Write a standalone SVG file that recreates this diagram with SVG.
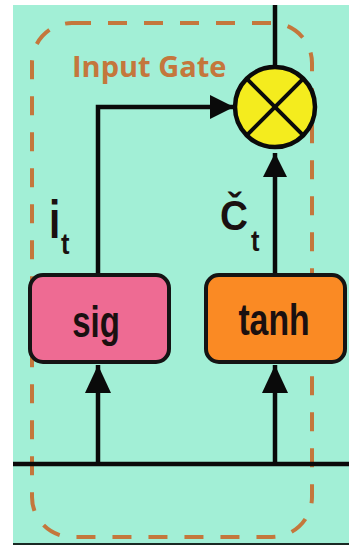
<svg xmlns="http://www.w3.org/2000/svg" width="349" height="545" viewBox="0 0 349 545">
  <defs>
    <marker id="ah" viewBox="0 0 24 24" refX="24" refY="12" markerWidth="24" markerHeight="24" markerUnits="userSpaceOnUse" orient="auto">
      <path d="M0,0 L24,12 L0,24 Z" fill="#0a0a0a"/>
    </marker>
    <marker id="ahb" viewBox="0 0 28 26" refX="28" refY="13" markerWidth="28" markerHeight="26" markerUnits="userSpaceOnUse" orient="auto">
      <path d="M0,0 L28,13 L0,26 Z" fill="#0a0a0a"/>
    </marker>
  </defs>
  <style>
    .ln { fill: none; stroke: #0a0a0a; stroke-width: 4.5; }
    .box { stroke: #141414; stroke-width: 4; }
    .lbl { font-family: "Liberation Sans", Arial, sans-serif; font-weight: bold; fill: #1a1010; }
    .gate { font-family: "Open Sans", "Liberation Sans", sans-serif; font-weight: bold; fill: #c4773c; }
  </style>
  <rect x="0" y="0" width="349" height="545" fill="#ffffff"/>
  <rect x="13" y="5" width="336" height="540" fill="#a2efd6"/>
  <rect x="13" y="543" width="336" height="2" fill="#1a2a24"/>

  <g id="input-gate-frame">
    <rect x="32" y="23" width="280" height="514" rx="40" ry="40" fill="none" stroke="#c4773c" stroke-width="4" stroke-dasharray="19 17"/>
    <text class="gate" x="72" y="77" font-size="29">Input Gate</text>
  </g>

  <g id="connectors">
    <line class="ln" x1="275" y1="5" x2="275" y2="66"/>
    <line class="ln" x1="13" y1="464" x2="349" y2="464"/>
    <path class="ln" d="M98,275 L98,107 L234,107" marker-end="url(#ah)"/>
    <line class="ln" x1="275" y1="273" x2="275" y2="153" marker-end="url(#ah)"/>
    <line class="ln" x1="98" y1="464" x2="98" y2="365" marker-end="url(#ahb)"/>
    <line class="ln" x1="275" y1="464" x2="275" y2="365" marker-end="url(#ahb)"/>
  </g>

  <g id="multiply">
    <circle cx="275" cy="107" r="40" fill="#f4ec1e" stroke="#0a0a0a" stroke-width="4.5"/>
    <line x1="246.7" y1="78.7" x2="303.3" y2="135.3" stroke="#0a0a0a" stroke-width="4"/>
    <line x1="303.3" y1="78.7" x2="246.7" y2="135.3" stroke="#0a0a0a" stroke-width="4"/>
  </g>

  <g id="sig">
    <rect class="box" x="30" y="275" width="139" height="87" rx="13" ry="13" fill="#ee6b93"/>
    <text class="lbl" transform="translate(96,337) scale(0.75,1)" text-anchor="middle" font-size="44">sig</text>
  </g>

  <g id="tanh">
    <rect class="box" x="206" y="275" width="139" height="87" rx="13" ry="13" fill="#fa8a24"/>
    <text class="lbl" transform="translate(274,335) scale(0.75,1)" text-anchor="middle" font-size="45">tanh</text>
  </g>

  <g id="label-it">
    <text class="lbl" transform="translate(49,238) scale(0.75,1)" font-size="54" fill="#101010">i</text>
    <text class="lbl" transform="translate(61,254) scale(0.85,1)" font-size="30" fill="#101010">t</text>
  </g>

  <g id="label-ct">
    <text class="lbl" transform="translate(220,230) scale(0.9,1)" font-size="43" fill="#101010">Č</text>
    <text class="lbl" transform="translate(251,251) scale(0.85,1)" font-size="30" fill="#101010">t</text>
  </g>
</svg>
